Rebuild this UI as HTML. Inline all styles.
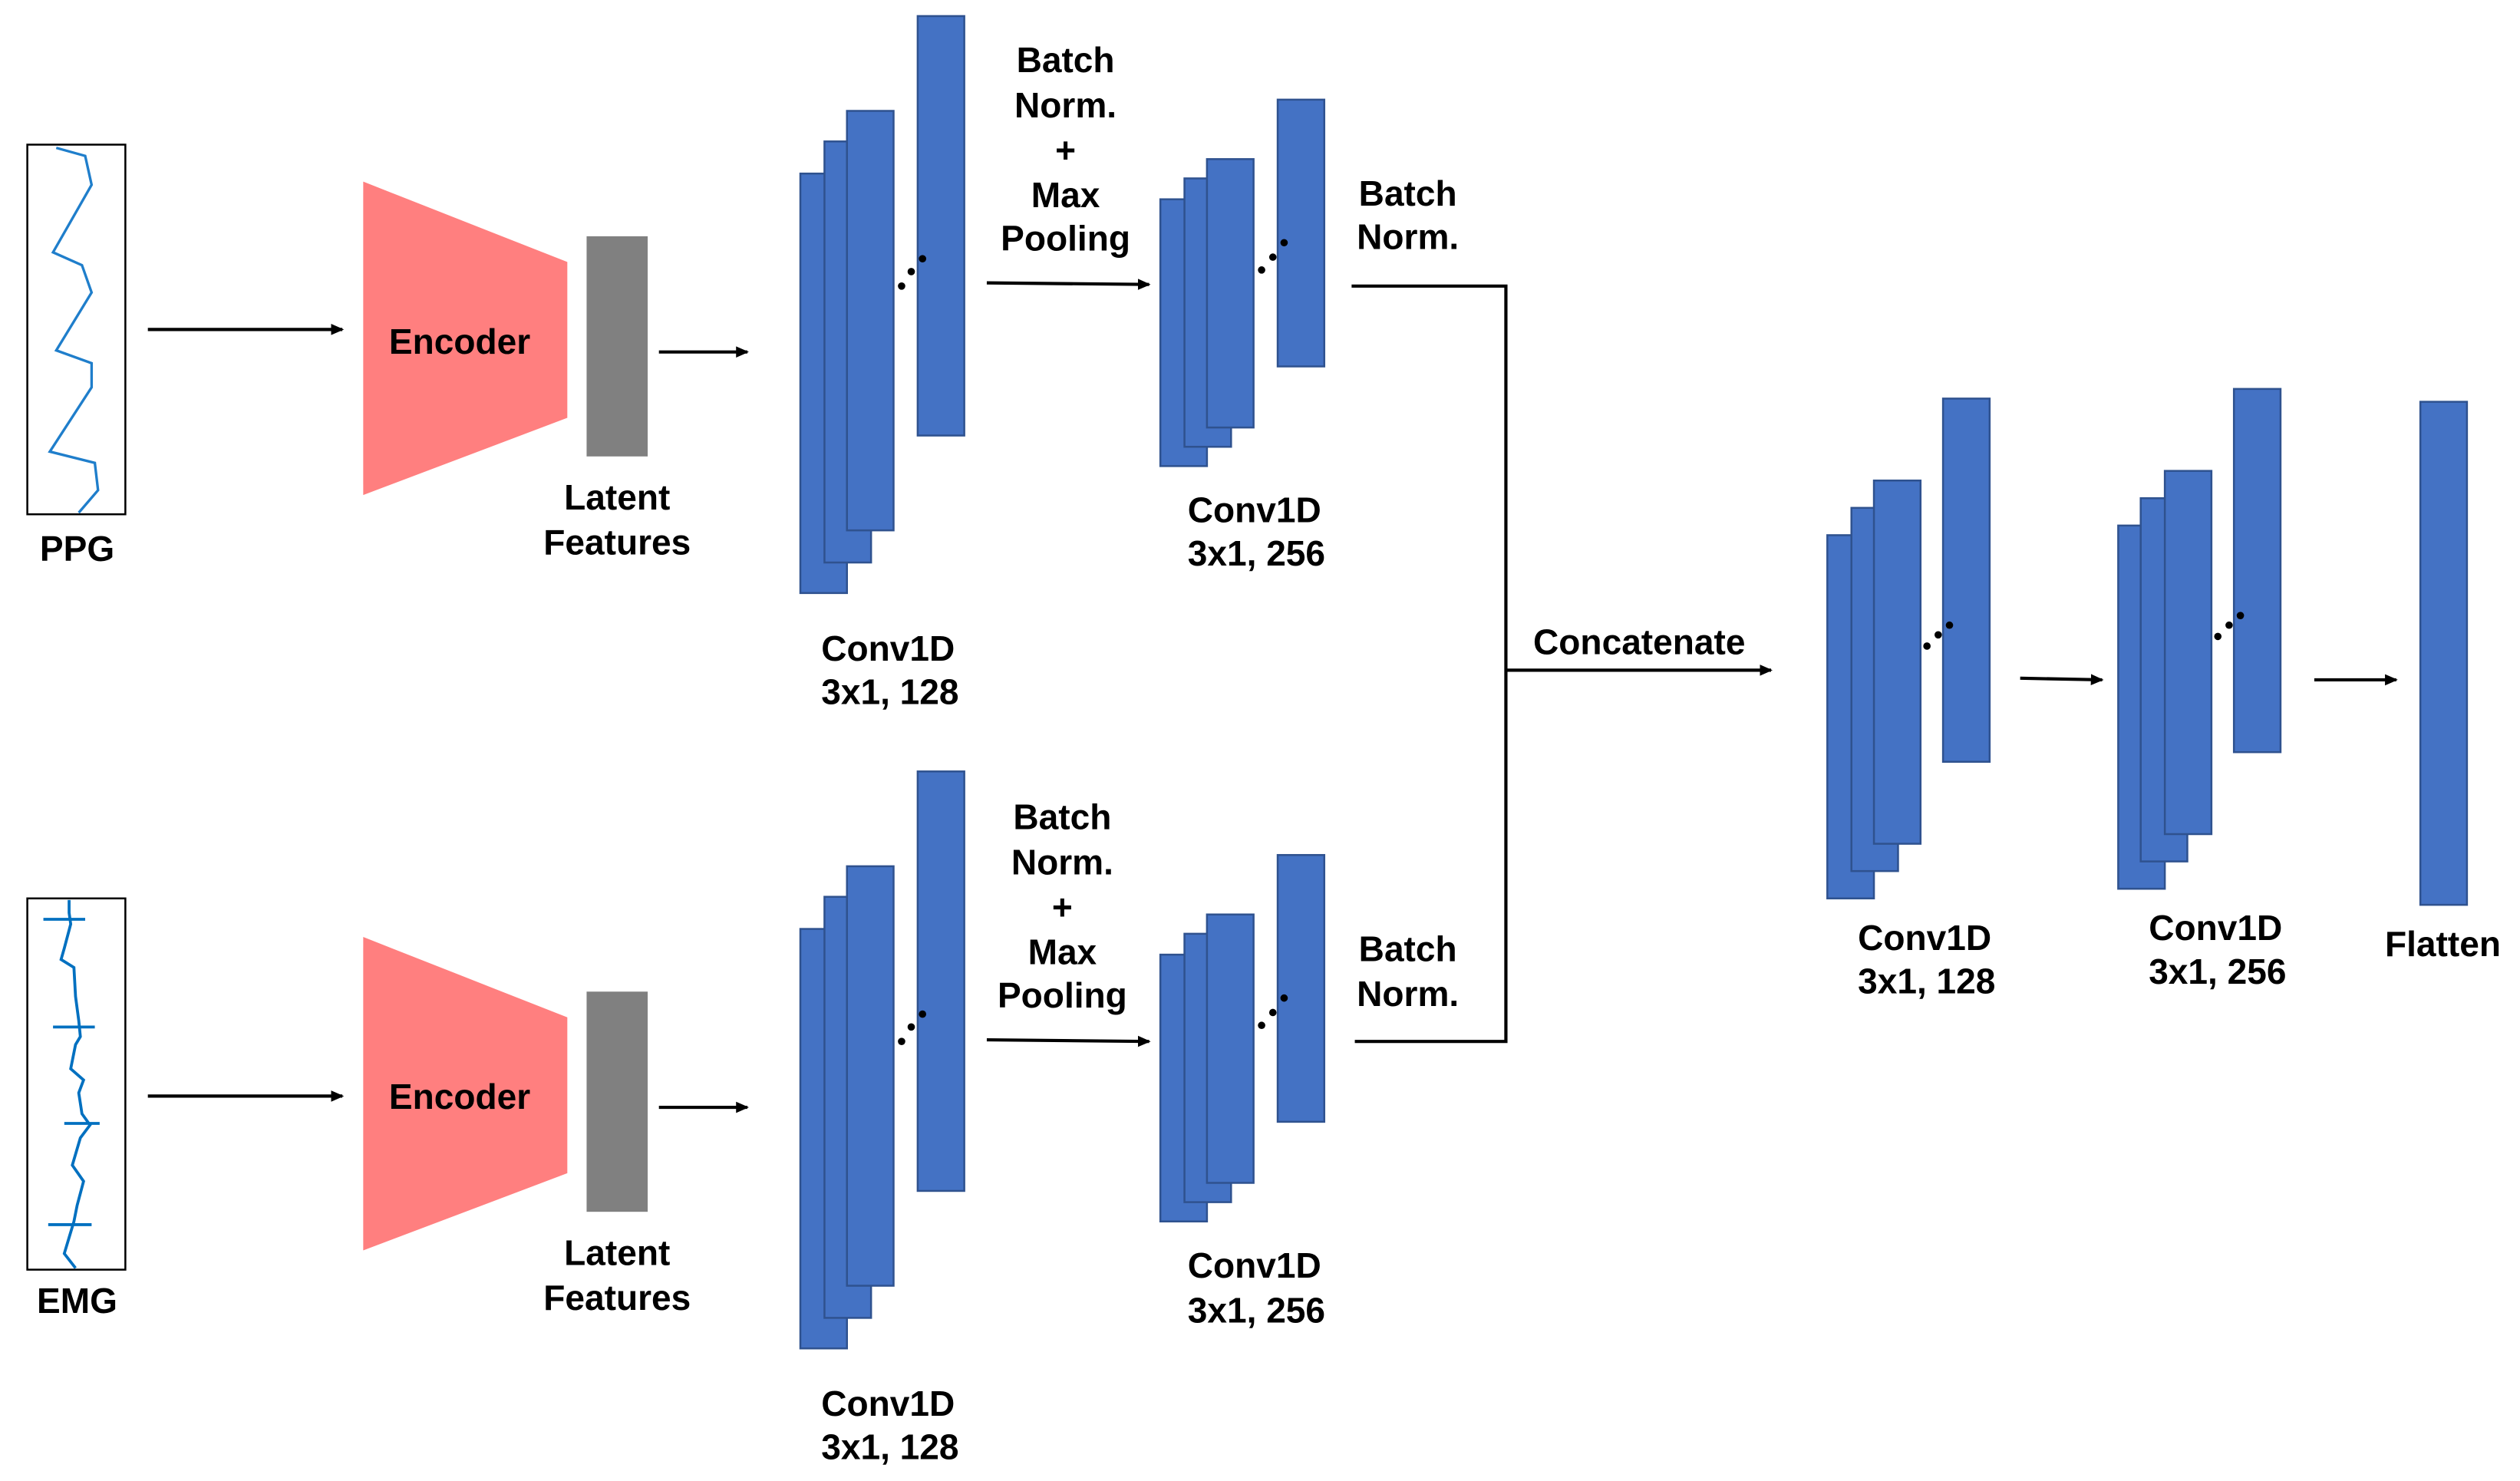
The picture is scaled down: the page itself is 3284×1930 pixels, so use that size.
<!DOCTYPE html>
<html><head><meta charset="utf-8"><style>html,body{margin:0;padding:0;background:#fff}svg{display:block}</style></head><body>
<svg width="3284" height="1930" viewBox="0 0 1568 921.5" preserveAspectRatio="none" xmlns="http://www.w3.org/2000/svg">
<defs>
<marker id="a" markerWidth="8" markerHeight="8" refX="7" refY="4" orient="auto" markerUnits="userSpaceOnUse"><path d="M0,0.5 L8,4 L0,7.5 Z" fill="#000"/></marker>
<g id="c128">
<rect x="498" y="108" width="29" height="261"/><rect x="513" y="88" width="29" height="262"/><rect x="527" y="69" width="29" height="261"/><rect x="571" y="10" width="29" height="261"/>
</g>
<g id="c256">
<rect x="722" y="124" width="29" height="166"/><rect x="737" y="111" width="29" height="167"/><rect x="751" y="99" width="29" height="167"/><rect x="795" y="62" width="29" height="166"/>
</g>
</defs>
<g font-family="Liberation Sans, sans-serif" font-weight="bold" font-size="22" fill="#000">
<!-- PPG -->
<rect x="17" y="90" width="61" height="230" fill="none" stroke="#000" stroke-width="1.2"/>
<polyline points="35,92 53,97 57,115 33,157 51,165 57,182 35,218 57,226 57,241 31,281 59,288 61,305 49,319" fill="none" stroke="#1f7ecb" stroke-width="1.6"/>
<text x="48" y="349" text-anchor="middle">PPG</text>
<!-- EMG -->
<rect x="17" y="559" width="61" height="231" fill="none" stroke="#000" stroke-width="1.2"/>
<path d="M43,560 L43,568 L44,575 L40,590 L38,597 L46,602 L47,620 L49,635 L50,645 L47,650 L44,665 L52,672 L49,680 L51,693 L56,700 L50,708 L45,725 L52,735 L48,750 L46,760 L43,770 L40,780 L47,789 M27,572 H53 M33,639 H59 M40,699 H62 M30,762 H57" fill="none" stroke="#0070C0" stroke-width="1.8"/>
<text x="48" y="817" text-anchor="middle">EMG</text>

<g stroke="#000" stroke-width="2" fill="none" marker-end="url(#a)">
<line x1="92" y1="205" x2="213" y2="205"/>
<line x1="410" y1="219" x2="465" y2="219"/>
<line x1="614" y1="176" x2="715" y2="177"/>
<line x1="92" y1="682" x2="213" y2="682"/>
<line x1="410" y1="689" x2="465" y2="689"/>
<line x1="614" y1="647" x2="715" y2="648"/>
<line x1="937" y1="417" x2="1102" y2="417"/>
<line x1="1257" y1="422" x2="1308" y2="423"/>
<line x1="1440" y1="423" x2="1491" y2="423"/>
</g>
<polyline points="841,178 937,178 937,648 843,648" fill="none" stroke="#000" stroke-width="2"/>

<polygon points="226,113 353,163 353,260 226,308" fill="#FF7F7F"/>
<polygon points="226,583 353,633 353,730 226,778" fill="#FF7F7F"/>
<text x="286" y="220" text-anchor="middle">Encoder</text>
<text x="286" y="690" text-anchor="middle">Encoder</text>
<rect x="365" y="147" width="38" height="137" fill="#808080"/>
<rect x="365" y="617" width="38" height="137" fill="#808080"/>
<text x="384" y="317" text-anchor="middle">Latent</text><text x="384" y="345" text-anchor="middle">Features</text>
<text x="384" y="787" text-anchor="middle">Latent</text><text x="384" y="815" text-anchor="middle">Features</text>

<g fill="#4472C4" stroke="#2F528F" stroke-width="1.2">
<use href="#c128"/><use href="#c256"/>
<use href="#c128" transform="translate(0,470)"/><use href="#c256" transform="translate(0,470)"/>
<rect x="1137" y="333" width="29" height="226"/><rect x="1152" y="316" width="29" height="226"/><rect x="1166" y="299" width="29" height="226"/><rect x="1209" y="248" width="29" height="226"/>
<rect x="1318" y="327" width="29" height="226"/><rect x="1332" y="310" width="29" height="226"/><rect x="1347" y="293" width="29" height="226"/><rect x="1390" y="242" width="29" height="226"/>
<rect x="1506" y="250" width="29" height="313"/>
</g>
<g fill="#000">
<circle cx="561" cy="178" r="2.3"/><circle cx="567" cy="169" r="2.3"/><circle cx="574" cy="161" r="2.3"/>
<circle cx="561" cy="648" r="2.3"/><circle cx="567" cy="639" r="2.3"/><circle cx="574" cy="631" r="2.3"/>
<circle cx="785" cy="168" r="2.3"/><circle cx="792" cy="160" r="2.3"/><circle cx="799" cy="151" r="2.3"/>
<circle cx="785" cy="638" r="2.3"/><circle cx="792" cy="630" r="2.3"/><circle cx="799" cy="621" r="2.3"/>
<circle cx="1199" cy="402" r="2.3"/><circle cx="1206" cy="395" r="2.3"/><circle cx="1213" cy="389" r="2.3"/>
<circle cx="1380" cy="396" r="2.3"/><circle cx="1387" cy="389" r="2.3"/><circle cx="1394" cy="383" r="2.3"/>
</g>

<text x="511" y="411">Conv1D</text><text x="511" y="438">3x1, 128</text>
<text x="511" y="881">Conv1D</text><text x="511" y="908">3x1, 128</text>
<text x="739" y="325">Conv1D</text><text x="739" y="352">3x1, 256</text>
<text x="739" y="795">Conv1D</text><text x="739" y="823">3x1, 256</text>
<text x="1156" y="591">Conv1D</text><text x="1156" y="618">3x1, 128</text>
<text x="1337" y="585">Conv1D</text><text x="1337" y="612">3x1, 256</text>
<text x="1520" y="595" text-anchor="middle">Flatten</text>
<text x="1020" y="407" text-anchor="middle">Concatenate</text>

<g text-anchor="middle">
<text x="663" y="45">Batch</text><text x="663" y="73">Norm.</text><text x="663" y="101">+</text><text x="663" y="129">Max</text><text x="663" y="156">Pooling</text>
<text x="661" y="516">Batch</text><text x="661" y="544">Norm.</text><text x="661" y="572">+</text><text x="661" y="600">Max</text><text x="661" y="627">Pooling</text>
<text x="876" y="128">Batch</text><text x="876" y="155">Norm.</text>
<text x="876" y="598">Batch</text><text x="876" y="626">Norm.</text>
</g>
</g>
</svg>
</body></html>
